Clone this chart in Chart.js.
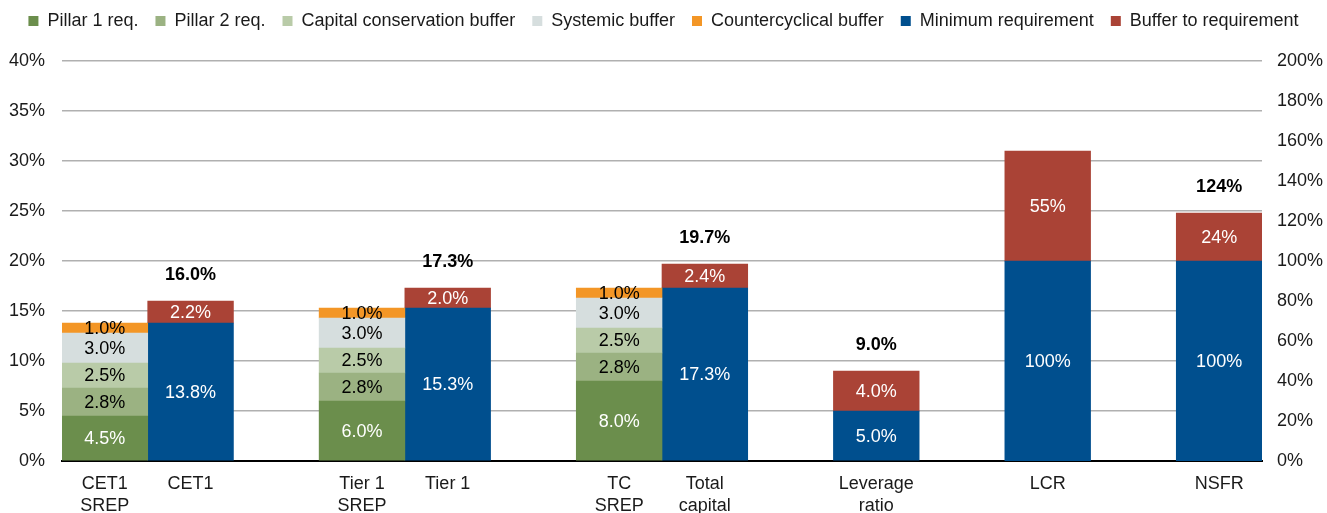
<!DOCTYPE html>
<html>
<head>
<meta charset="utf-8">
<script src="https://cdn.jsdelivr.net/npm/chart.js@4"></script>
<style>
  body { margin: 0; background: #fff; }
  #wrap { width: 1327px; height: 513px; position: relative; }
</style>
</head>
<body>
<div id="wrap"><canvas id="req-chart"></canvas></div>
<script>
// Categories (blank ones are the gaps between groups)
const categories = [['CET1', 'SREP'], 'CET1', '', ['Tier 1', 'SREP'], 'Tier 1', '',
  ['TC', 'SREP'], ['Total', 'capital'], '', ['Leverage', 'ratio'], '', 'LCR', '', 'NSFR'];

// SREP stack (left axis, %)
const pillar1 = [4.5, null, null, 6.0, null, null, 8.0, null, null, null, null, null, null, null];
const pillar2 = [2.8, null, null, 2.8, null, null, 2.8, null, null, null, null, null, null, null];
const conservationBuffer = [2.5, null, null, 2.5, null, null, 2.5, null, null, null, null, null, null, null];
const systemicBuffer = [3.0, null, null, 3.0, null, null, 3.0, null, null, null, null, null, null, null];
const countercyclicalBuffer = [1.0, null, null, 1.0, null, null, 1.0, null, null, null, null, null, null, null];

// Actual ratios (left axis, %)
const minRequirement = [null, 13.8, null, null, 15.3, null, null, 17.3, null, 5.0, null, null, null, null];
const bufferToReq = [null, 2.2, null, null, 2.0, null, null, 2.4, null, 4.0, null, null, null, null];

// Liquidity ratios (right axis, %)
const minRequirementLiq = [null, null, null, null, null, null, null, null, null, null, null, 100, null, 100];
const bufferToReqLiq = [null, null, null, null, null, null, null, null, null, null, null, 55, null, 24];

// Totals printed above the bars
const totals = [null, 16.0, null, null, 17.3, null, null, 19.7, null, 9.0, null, null, null, 124];

// Axis ticks
const leftTicks = [0, 5, 10, 15, 20, 25, 30, 35, 40];
const rightTicks = [0, 20, 40, 60, 80, 100, 120, 140, 160, 180, 200];

const FONT = "'Liberation Sans', Arial, sans-serif";
const BLUE = '#004F8E';
const RED = '#AA4336';

Chart.defaults.font.family = FONT;
Chart.defaults.font.size = 18;
Chart.defaults.color = '#1a1a1a';

function pct(v, axis) {
  return axis === 'y2' ? v.toFixed(0) + '%' : v.toFixed(1) + '%';
}

// Draws value labels inside segments and totals above the bars
const labelPlugin = {
  id: 'valueLabels',
  afterDatasetsDraw(chart) {
    const ctx = chart.ctx;
    ctx.save();
    ctx.textAlign = 'center';
    ctx.textBaseline = 'middle';
    ctx.font = '18px ' + FONT;
    chart.data.datasets.forEach((ds, i) => {
      const meta = chart.getDatasetMeta(i);
      meta.data.forEach((bar, j) => {
        const v = ds.data[j];
        if (v == null) return;
        ctx.fillStyle = ds.labelColor;
        ctx.fillText(pct(v, ds.yAxisID), bar.x, (bar.y + bar.base) / 2 + 1);
      });
    });
    ctx.font = 'bold 18px ' + FONT;
    ctx.fillStyle = '#000';
    const xScale = chart.scales.x;
    totals.forEach((t, j) => {
      if (t == null) return;
      const axis = bufferToReqLiq[j] != null ? 'y2' : 'y';
      const y = chart.scales[axis].getPixelForValue(t) - 26;
      ctx.fillText(pct(t, axis), xScale.getPixelForValue(j), y);
    });
    ctx.restore();
  }
};

// Make the legend box taller so the plot starts lower
const legendSpace = {
  id: 'legendSpace',
  beforeLayout(chart) {
    const lg = chart.legend;
    if (!lg || lg._patched) return;
    const fit = lg.fit;
    lg.fit = function () {
      fit.call(this);
      this.height += 21;
    };
    lg._patched = true;
  }
};

const ctx = document.getElementById('req-chart').getContext('2d');
new Chart(ctx, {
  type: 'bar',
  data: {
    labels: categories,
    datasets: [
      { label: 'Pillar 1 req.', data: pillar1, backgroundColor: '#6B8E4C', labelColor: '#fff', yAxisID: 'y' },
      { label: 'Pillar 2 req.', data: pillar2, backgroundColor: '#9BB282', labelColor: '#000', yAxisID: 'y' },
      { label: 'Capital conservation buffer', data: conservationBuffer, backgroundColor: '#B9CBA8', labelColor: '#000', yAxisID: 'y' },
      { label: 'Systemic buffer', data: systemicBuffer, backgroundColor: '#D6DEDE', labelColor: '#000', yAxisID: 'y' },
      { label: 'Countercyclical buffer', data: countercyclicalBuffer, backgroundColor: '#F39626', labelColor: '#000', yAxisID: 'y' },
      { label: 'Minimum requirement', data: minRequirement, backgroundColor: BLUE, labelColor: '#fff', yAxisID: 'y' },
      { label: 'Buffer to requirement', data: bufferToReq, backgroundColor: RED, labelColor: '#fff', yAxisID: 'y' },
      { label: 'Minimum requirement', data: minRequirementLiq, backgroundColor: BLUE, labelColor: '#fff', yAxisID: 'y2', noLegend: true },
      { label: 'Buffer to requirement', data: bufferToReqLiq, backgroundColor: RED, labelColor: '#fff', yAxisID: 'y2', noLegend: true }
    ]
  },
  options: {
    responsive: true,
    maintainAspectRatio: false,
    animation: false,
    datasets: { bar: { barPercentage: 1, categoryPercentage: 1 } },
    layout: { padding: { left: 0, right: 0, top: -5, bottom: 0 } },
    plugins: {
      tooltip: { enabled: false },
      legend: {
        position: 'top',
        labels: {
          boxWidth: 10,
          boxHeight: 10,
          padding: 17,
          color: '#1a1a1a',
          font: { size: 18 },
          filter: (item, data) => !data.datasets[item.datasetIndex].noLegend
        }
      }
    },
    scales: {
      x: {
        stacked: true,
        grid: { display: false, drawTicks: false },
        border: { display: true, color: '#000', width: 2 },
        ticks: { padding: 13, maxRotation: 0, autoSkip: false, color: '#1a1a1a', font: { size: 18, lineHeight: 1.17 } },
        afterFit: (s) => { s.height = 52; }
      },
      y: {
        stacked: true,
        position: 'left',
        min: 0,
        max: 40,
        afterBuildTicks: (s) => { s.ticks = leftTicks.map(v => ({ value: v })); },
        ticks: { padding: 17, callback: (v) => v + '%' },
        grid: { color: '#b0b0b0', lineWidth: 1.5, drawTicks: false },
        border: { display: false },
        afterFit: (s) => { s.width = 62; }
      },
      y2: {
        stacked: true,
        position: 'right',
        min: 0,
        max: 200,
        afterBuildTicks: (s) => { s.ticks = rightTicks.map(v => ({ value: v })); },
        ticks: { padding: 15, callback: (v) => v + '%' },
        grid: { display: false, drawTicks: false },
        border: { display: false },
        afterFit: (s) => { s.width = 65; }
      }
    }
  },
  plugins: [labelPlugin, legendSpace]
});
</script>
</body>
</html>
